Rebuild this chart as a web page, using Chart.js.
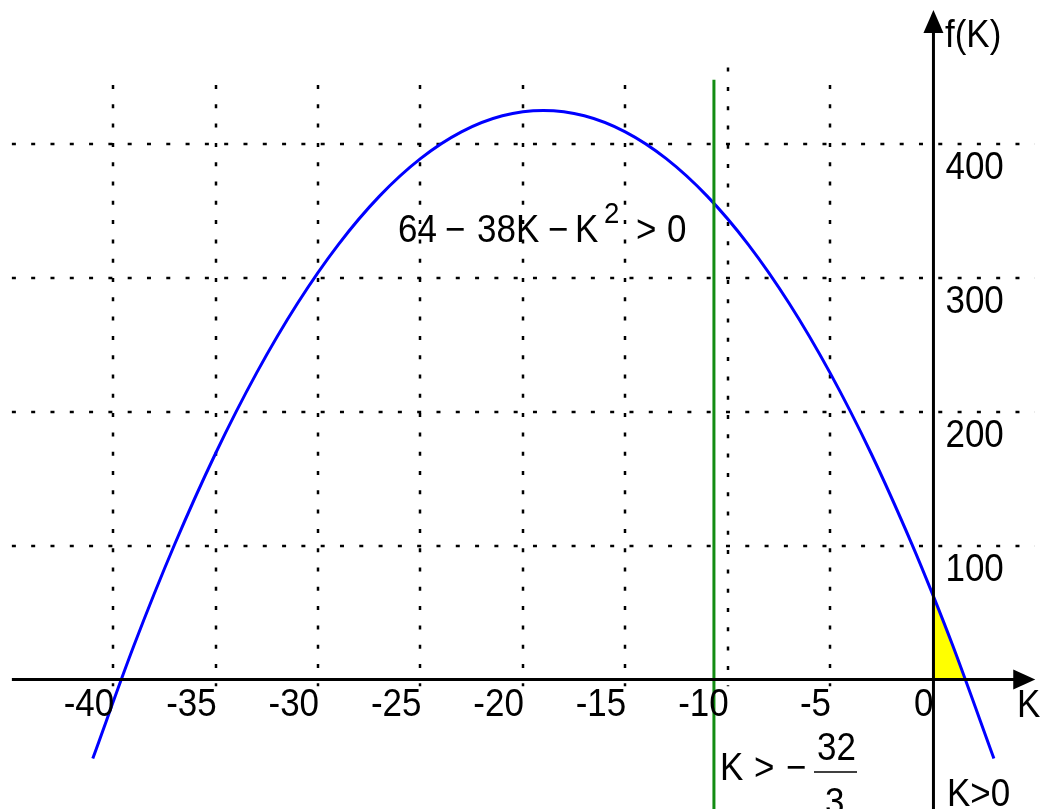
<!DOCTYPE html>
<html>
<head>
<meta charset="utf-8">
<title>f(K)</title>
<script src="https://cdn.jsdelivr.net/npm/chart.js@4"></script>
<style>
  body { margin: 0; background: white; }
  canvas { display: block; }
</style>
</head>
<body>
<canvas id="myChart" width="1041" height="809"></canvas>
<script>
// valores
const curveK = [-41, -39, -37, -35, -33, -31, -29, -27, -25, -23, -21, -19, -17, -15, -13, -11, -9, -7, -5, -3, -1, 0, 1, 3];
const curveF = [-59, 25, 101, 169, 229, 281, 325, 361, 389, 409, 421, 425, 421, 409, 389, 361, 325, 281, 229, 169, 101, 64, 25, -59];
const fillK = [0, 1, 1.62];
const fillF = [64, 25, 0];
const limitK = [-10.67, -10.67];
const limitF = [448, -100];
const xTicks = [-40, -35, -30, -25, -20, -15, -10, -5, 0];
const xTickLabels = ['-40', '-35', '-30', '-25', '-20', '-15', '-10', '-5', '0'];
const yTicks = [100, 200, 300, 400];
const yTickLabels = ['100', '200', '300', '400'];

const FONT = "'Liberation Sans', Arial, sans-serif";

function puntos(xs, ys) {
  var out = [];
  for (var i = 0; i < xs.length; i++) out.push({ x: xs[i], y: ys[i] });
  return out;
}

// texto un poco angosto, como en la imagen
function texto(ctx, s, x, y, size, align) {
  ctx.save();
  ctx.translate(x, y);
  ctx.scale(0.92, 1);
  ctx.font = size + 'px ' + FONT;
  ctx.textAlign = align || 'left';
  ctx.textBaseline = 'alphabetic';
  ctx.fillText(s, 0, 0);
  ctx.restore();
}

const dibujo = {
  id: 'dibujo',
  beforeDatasetsDraw(chart) {
    const ctx = chart.ctx;
    const x = chart.scales.x, y = chart.scales.y;
    ctx.save();
    ctx.strokeStyle = '#000';
    ctx.lineWidth = 2.5;
    ctx.setLineDash([4, 15.3]);
    xTicks.forEach(function (k) {
      if (k === 0) return;
      const px = Math.round(x.getPixelForValue(k));
      ctx.beginPath();
      ctx.moveTo(px, y.getPixelForValue(k === -10 ? 457 : 444));
      ctx.lineTo(px, y.getPixelForValue(-5));
      ctx.stroke();
    });
    yTicks.forEach(function (v) {
      const py = Math.round(y.getPixelForValue(v));
      ctx.beginPath();
      ctx.moveTo(x.getPixelForValue(-44.95), py);
      ctx.lineTo(x.getPixelForValue(5), py);
      ctx.stroke();
    });
    ctx.restore();
  },
  afterDatasetsDraw(chart) {
    const ctx = chart.ctx;
    const x = chart.scales.x, y = chart.scales.y;
    const x0 = x.getPixelForValue(0) + 1;
    const y0 = y.getPixelForValue(0);
    ctx.save();
    // ejes
    ctx.strokeStyle = '#000';
    ctx.fillStyle = '#000';
    ctx.lineWidth = 3;
    const tipX = x.getPixelForValue(5.02);
    ctx.beginPath();
    ctx.moveTo(x.getPixelForValue(-44.95), y0);
    ctx.lineTo(tipX - 18, y0);
    ctx.stroke();
    ctx.beginPath();
    ctx.moveTo(tipX, y0);
    ctx.lineTo(tipX - 22, y0 - 10);
    ctx.lineTo(tipX - 22, y0 + 10);
    ctx.closePath();
    ctx.fill();
    const tipY = y.getPixelForValue(500);
    ctx.beginPath();
    ctx.moveTo(x0, chart.height);
    ctx.lineTo(x0, tipY + 18);
    ctx.stroke();
    ctx.beginPath();
    ctx.moveTo(x0, tipY);
    ctx.lineTo(x0 - 10, tipY + 23);
    ctx.lineTo(x0 + 10, tipY + 23);
    ctx.closePath();
    ctx.fill();

    // etiquetas
    xTicks.forEach(function (k, i) {
      texto(ctx, xTickLabels[i], x.getPixelForValue(k) + 1, y0 + 36, 38, 'right');
    });
    yTicks.forEach(function (v, i) {
      texto(ctx, yTickLabels[i], x0 + 12, y.getPixelForValue(v) + 35, 38);
    });
    texto(ctx, 'K', 1017, y0 + 37, 38);
    texto(ctx, 'f(K)', 945, 47, 38);
    texto(ctx, 'K>0', 947, 806, 38);

    // 64 - 38K - K^2 > 0
    const partes = [['64', 398, 242, 38], ['\u2212', 445, 242, 38], ['38K', 477, 242, 38],
                    ['\u2212', 548, 242, 38], ['K', 575, 242, 38], ['2', 604, 223, 30],
                    ['>', 636, 242, 38], ['0', 667, 242, 38]];
    partes.forEach(function (p) {
      texto(ctx, p[0], p[1], p[2], p[3]);
    });

    // K > -32/3
    texto(ctx, 'K', 720, 780, 38);
    texto(ctx, '>', 754, 780, 38);
    texto(ctx, '\u2212', 786, 780, 38);
    texto(ctx, '32', 817, 760, 38);
    texto(ctx, '3', 825, 815, 38);
    ctx.lineWidth = 1.5;
    ctx.beginPath();
    ctx.moveTo(814, 772);
    ctx.lineTo(857, 772);
    ctx.stroke();
    ctx.restore();
  }
};

const chartDOM = document.getElementById('myChart');
const myChart = new Chart(chartDOM, {
  type: 'line',
  data: {
    datasets: [
      {
        data: puntos(fillK, fillF),
        borderWidth: 0,
        pointRadius: 0,
        backgroundColor: '#ffff00',
        fill: 'origin',
        tension: 0,
        order: 3
      },
      {
        data: puntos(curveK, curveF),
        borderColor: '#0000ff',
        borderWidth: 3,
        pointRadius: 0,
        fill: false,
        cubicInterpolationMode: 'monotone',
        order: 2
      },
      {
        data: puntos(limitK, limitF),
        borderColor: '#128c12',
        borderWidth: 3,
        pointRadius: 0,
        fill: false,
        order: 1
      }
    ]
  },
  options: {
    responsive: false,
    animation: false,
    devicePixelRatio: 1,
    layout: { padding: 0 },
    plugins: { legend: { display: false }, tooltip: { enabled: false } },
    scales: {
      x: { type: 'linear', min: -45.53, max: 5.30, display: false },
      y: { type: 'linear', min: -96.7, max: 507.5, display: false }
    }
  },
  plugins: [dibujo]
});
</script>
</body>
</html>
